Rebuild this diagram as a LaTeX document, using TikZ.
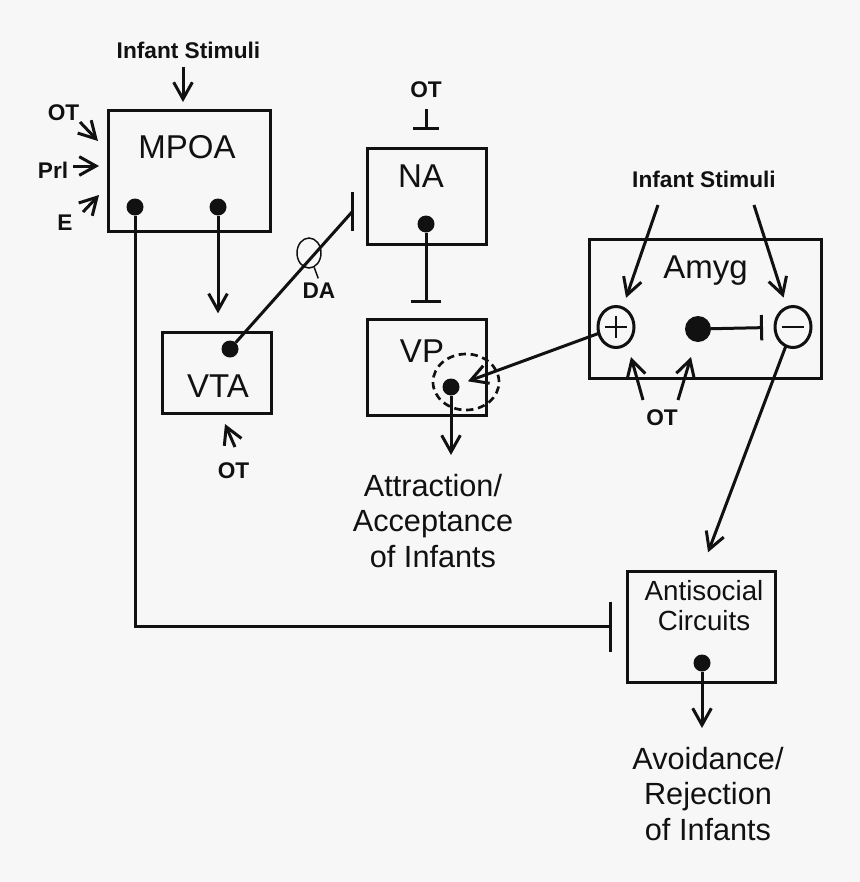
\documentclass[tikz,border=0pt]{standalone}
\usepackage{fontspec}
\setmainfont{Liberation Sans}
\usetikzlibrary{arrows.meta,shapes.geometric,calc}
\definecolor{bg}{HTML}{F7F7F7}
\definecolor{ink}{HTML}{111111}
\begin{document}
\begin{tikzpicture}[x=0.75pt,y=-0.75pt,line width=2.25pt,color=ink,
  box/.style={draw, rectangle, inner sep=0pt, outer sep=0pt},
  dot/.style={circle, fill, inner sep=0pt, outer sep=0pt, minimum size=12.75pt},
  lab/.style={inner sep=0pt, anchor=base, font=\fontsize{24.75}{28}\selectfont},
  blab/.style={inner sep=0pt, anchor=base, font=\bfseries\fontsize{17}{20}\selectfont},
  outtext/.style={inner sep=0pt, anchor=base, align=center, font=\fontsize{23}{26.5}\selectfont},
  sign/.style={draw, ellipse, inner sep=0pt, outer sep=0pt, minimum width=27pt, minimum height=30.75pt},
  arr/.style={-{Straight Barb[length=12.5pt,width=14pt]}},
  inh/.style={-{Bar[width=#1]}},
]
\fill[bg] (0,0) rectangle (860,882);
\useasboundingbox (0,0) rectangle (860,882);

% boxes
\node[box, minimum width=121.5pt, minimum height=90.75pt] (mpoa) at (189,170.5) {};
\node[box, minimum width=89.25pt, minimum height=72pt] (na) at (426.5,196) {};
\node[box, minimum width=81.75pt, minimum height=60.75pt] (vta) at (216.5,372.5) {};
\node[box, minimum width=89.25pt, minimum height=72pt] (vp) at (426.5,367) {};
\node[box, minimum width=174pt, minimum height=104.25pt] (amyg) at (705,308.5) {};
\node[box, minimum width=111pt, minimum height=83.25pt] (anti) at (701,626.5) {};

% box labels
\node[lab] (tmpoa) at (187,158) {MPOA};
\node[lab] (tna) at (421,187) {NA};
\node[lab] (tvta) at (218,397) {VTA};
\node[lab] (tvp) at (422,362) {VP};
\node[lab] (tamyg) at (705.5,278) {Amyg};
\node[inner sep=0pt, anchor=base, align=center, font=\fontsize{20.8}{22.5}\selectfont] (tanti) at (704,630) {Antisocial\\Circuits};

% bold labels
\node[blab] (istop) at (188.5,58) {Infant Stimuli};
\node[blab] (otl) at (63.5,120) {OT};
\node[blab] (prl) at (53,178) {Prl};
\node[blab] (el) at (65,230) {E};
\node[blab] (otna) at (426,97) {OT};
\node[blab] (da) at (319,298) {DA};
\node[blab] (isr) at (704,187) {Infant Stimuli};
\node[blab] (otb) at (662,425) {OT};
\node[blab] (otv) at (233.5,478) {OT};

% outputs
\node[outtext] (attr) at (433,567) {Attraction/\\Acceptance\\of Infants};
\node[outtext] (avoid) at (708,840) {Avoidance/\\Rejection\\of Infants};

% dots
\node[dot] (d1) at (135,207) {};
\node[dot] (d2) at (218,207) {};
\node[dot] (d3) at (230,349) {};
\node[dot] (d4) at (426,224) {};
\node[dot] (d5) at (451,387) {};
\node[dot, minimum size=19.5pt] (ad) at (698,329) {};
\node[dot] (d6) at (702,663) {};

% plus / minus
\node[sign] (plus) at (616,327) {};
\node[sign] (minus) at (793,327) {};
\draw[line width=2pt] ($(plus.center)+(-11,0)$) -- ($(plus.center)+(11,0)$);
\draw[line width=2pt] ($(plus.center)+(0,-11)$) -- ($(plus.center)+(0,11)$);
\draw[line width=2pt] ($(minus.center)+(-11,0)$) -- ($(minus.center)+(11,0)$);

% dashed region and DA ring
\node[draw, ellipse, dash pattern=on 5.5pt off 3.5pt, line width=2pt, inner sep=0pt, minimum width=49.5pt, minimum height=42pt] (dsh) at (466,382) {};
\node[draw, ellipse, line width=1.1pt, inner sep=0pt, minimum width=18pt, minimum height=22.5pt] (daring) at (309,253) {};

% inputs to MPOA
\draw[arr] ($(istop.base)+(-5.5,9)$) -- ($(mpoa.north)+(-6,-8)$);
\draw[arr] ($(otl.base)+(16.5,2)$) -- ($(otl.base)+(34.5,21)$);
\draw[arr] ($(prl.base)+(20,-12)$) -- ($(prl.base)+(46,-12)$);
\draw[arr] ($(el.base)+(18,-18)$) -- ($(el.base)+(34,-35)$);

% MPOA outputs
\draw[inh=37.5pt] (d1) |- ($(anti.west)+(-15,0)$);
\draw[arr, shorten >=14pt] (d2) -- (d2 |- vta.north);

% VTA to NA
\coordinate (nabar) at ($(na.west)+(-15,16)$);
\draw (d3) -- (nabar);
\draw ($(nabar)+(0,-20)$) -- ($(nabar)+(0,19)$);
\draw[line width=1.1pt] (daring.-70) -- ++(4,11);

% NA
\draw[inh=19.5pt, shorten <=8pt, shorten >=13.5pt] (otna) -- (otna |- na.north);
\draw[inh=22.5pt, shorten >=12pt] (d4) -- (d4 |- vp.north);

% VP output
\draw[arr] (d5) -- ($(d5)+(0,68)$);

% Amyg
\draw[arr, shorten >=1.5pt] (plus) -- (dsh.center);
\draw[arr, shorten >=8pt] ($(isr.base)+(-46,18)$) -- (plus);
\draw[arr, shorten >=8pt] ($(isr.base)+(50,18)$) -- (minus);
\draw[inh=19pt, shorten >=9pt] (ad) -- (minus);
\draw[arr] ($(otb.base)+(-19,-25)$) -- ($(otb.base)+(-31,-68)$);
\draw[arr] ($(otb.base)+(16,-25)$) -- ($(otb.base)+(29,-68)$);
\draw[arr, shorten >=15pt] (minus) -- (anti.north);

% VTA OT
\draw[arr] ($(otv.base)+(1.5,-31)$) -- ($(otv.base)+(-8.5,-54)$);

% Antisocial output
\draw[arr] (d6) -- ($(d6)+(0,65)$);
\end{tikzpicture}
\end{document}
